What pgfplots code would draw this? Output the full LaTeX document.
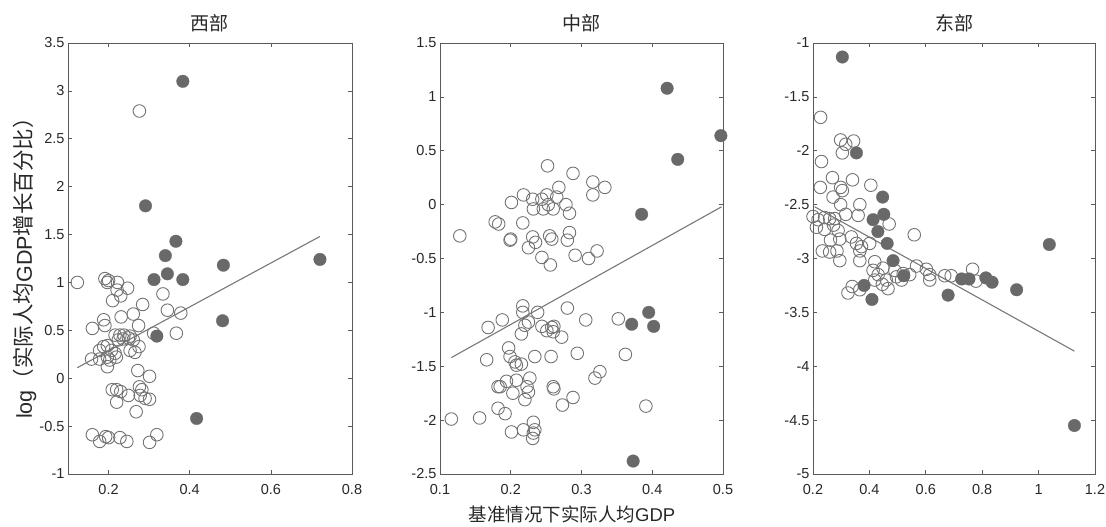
\documentclass[border=0pt]{standalone}
\usepackage{pgfplots}
\pgfplotsset{compat=1.18}
\usepackage{fontspec}
\setmainfont{Liberation Sans}
\newfontfamily\cjk{Noto Sans CJK SC}
\definecolor{axc}{RGB}{90,90,90}
\definecolor{txc}{RGB}{40,40,40}
\definecolor{opc}{RGB}{115,115,115}
\definecolor{fic}{RGB}{105,105,105}
\definecolor{lnc}{RGB}{120,120,120}
\pgfplotsset{
  myax/.style={
    scale only axis, height=431pt,
    anchor=south west,
    axis line style={axc, line width=0.8pt},
    tick style={axc, line width=0.7pt},
    major tick length=4pt,
    tick align=inside, tick pos=both,
    /pgf/number format/assume math mode=true,
    ticklabel style={font=\fontsize{14.5}{17}\selectfont, text=txc},
    xticklabel style={yshift=-7pt},
    title style={at={(0.5,1)}, anchor=center, yshift=14pt, font=\cjk\fontsize{19}{22}\selectfont, text=txc},
    clip=false,
  },
  opn/.style={only marks, mark=o, mark size=6.3pt, mark options={draw=opc, line width=0.9pt}},
  fil/.style={only marks, mark=*, mark size=6.3pt, mark options={draw=fic, fill=fic, line width=0.3pt}},
  reg/.style={lnc, line width=1.1pt, no marks},
}
\begin{document}
\begin{tikzpicture}
\path[use as bounding box] (0pt,0pt) rectangle (1106pt,527pt);
% ---------------- West
\begin{axis}[myax, at={(68pt,53pt)}, width=284pt,
  xmin=0.1, xmax=0.8, ymin=-1, ymax=3.5,
  xtick={0.2,0.4,0.6,0.8}, ytick={-1,-0.5,0,0.5,1,1.5,2,2.5,3,3.5},
  title={西部}]
\addplot[opn] table {
0.276 2.79
0.123 1.00
0.191 1.04
0.197 1.00
0.200 1.02
0.222 1.00
0.221 0.92
0.247 0.94
0.230 0.86
0.210 0.81
0.334 0.88
0.261 0.67
0.284 0.77
0.231 0.64
0.345 0.71
0.378 0.68
0.160 0.52
0.188 0.61
0.191 0.55
0.274 0.55
0.367 0.47
0.311 0.47
0.216 0.45
0.228 0.45
0.238 0.45
0.253 0.44
0.224 0.40
0.236 0.41
0.249 0.42
0.261 0.40
0.275 0.33
0.253 0.29
0.188 0.33
0.178 0.29
0.197 0.34
0.207 0.29
0.216 0.26
0.197 0.22
0.203 0.19
0.178 0.20
0.158 0.20
0.197 0.12
0.219 0.22
0.265 0.27
0.272 0.08
0.301 0.02
0.209 -0.12
0.220 -0.12
0.230 -0.14
0.249 -0.18
0.276 -0.09
0.282 -0.12
0.278 -0.18
0.290 -0.21
0.301 -0.22
0.220 -0.25
0.268 -0.35
0.160 -0.59
0.178 -0.66
0.193 -0.61
0.200 -0.62
0.228 -0.62
0.245 -0.66
0.301 -0.67
0.319 -0.59
};
\addplot[fil] table {
0.383 3.10
0.291 1.80
0.366 1.43
0.340 1.28
0.345 1.09
0.312 1.03
0.383 1.03
0.483 1.18
0.721 1.24
0.481 0.60
0.319 0.44
0.417 -0.42
};
\addplot[reg] coordinates {(0.123,0.11) (0.721,1.48)};
\end{axis}
% ---------------- Central
\begin{axis}[myax, at={(440pt,53pt)}, width=283pt,
  xmin=0.1, xmax=0.5, ymin=-2.5, ymax=1.5,
  xtick={0.1,0.2,0.3,0.4,0.5}, ytick={-2.5,-2,-1.5,-1,-0.5,0,0.5,1,1.5},
  title={中部}]
\addplot[opn] table {
0.128 -0.29
0.178 -0.16
0.183 -0.18
0.201 0.02
0.199 -0.33
0.200 -0.32
0.218 0.09
0.217 -0.17
0.231 0.05
0.232 -0.04
0.231 -0.30
0.225 -0.40
0.235 -0.35
0.244 0.05
0.246 -0.04
0.251 0.09
0.252 0.36
0.253 0.00
0.255 -0.29
0.258 -0.32
0.244 -0.49
0.256 -0.56
0.260 -0.04
0.265 0.07
0.268 0.16
0.278 0.00
0.283 -0.08
0.283 -0.26
0.280 -0.33
0.288 0.29
0.291 -0.47
0.316 0.21
0.316 0.09
0.333 0.16
0.310 -0.50
0.322 -0.43
0.116 -1.99
0.156 -1.98
0.168 -1.14
0.188 -1.07
0.166 -1.44
0.217 -0.94
0.217 -1.00
0.225 -1.09
0.220 -1.12
0.238 -1.00
0.215 -1.20
0.197 -1.33
0.199 -1.41
0.206 -1.46
0.208 -1.49
0.215 -1.48
0.234 -1.41
0.257 -1.41
0.244 -1.13
0.251 -1.17
0.258 -1.14
0.260 -1.18
0.272 -1.23
0.261 -1.13
0.280 -0.96
0.306 -1.07
0.294 -1.38
0.352 -1.06
0.362 -1.39
0.319 -1.61
0.326 -1.55
0.391 -1.87
0.227 -1.61
0.208 -1.63
0.194 -1.64
0.185 -1.69
0.182 -1.69
0.223 -1.69
0.225 -1.74
0.203 -1.75
0.220 -1.81
0.260 -1.69
0.261 -1.71
0.288 -1.79
0.273 -1.86
0.182 -1.89
0.192 -1.94
0.201 -2.11
0.218 -2.09
0.232 -2.02
0.234 -2.09
0.232 -2.12
0.231 -2.17
};
\addplot[fil] table {
0.421 1.08
0.497 0.64
0.436 0.42
0.385 -0.09
0.395 -1.00
0.371 -1.11
0.402 -1.13
0.373 -2.38
};
\addplot[reg] coordinates {(0.116,-1.42) (0.498,-0.02)};
\end{axis}
% ---------------- East
\begin{axis}[myax, at={(813pt,53pt)}, width=282pt,
  xmin=0.2, xmax=1.2, ymin=-5, ymax=-1,
  xtick={0.2,0.4,0.6,0.8,1,1.2}, ytick={-5,-4.5,-4,-3.5,-3,-2.5,-2,-1.5,-1},
  title={东部}]
\addplot[opn] table {
0.227 -1.69
0.298 -1.90
0.344 -1.91
0.316 -1.94
0.304 -2.02
0.230 -2.10
0.269 -2.25
0.340 -2.27
0.405 -2.32
0.226 -2.34
0.298 -2.34
0.304 -2.37
0.271 -2.43
0.298 -2.50
0.366 -2.50
0.200 -2.61
0.218 -2.64
0.241 -2.62
0.259 -2.63
0.277 -2.63
0.316 -2.59
0.360 -2.60
0.212 -2.71
0.241 -2.73
0.289 -2.74
0.273 -2.69
0.295 -2.82
0.336 -2.80
0.354 -2.86
0.372 -2.89
0.470 -2.68
0.559 -2.78
0.262 -2.83
0.233 -2.93
0.259 -2.94
0.285 -2.93
0.295 -3.02
0.366 -2.93
0.366 -3.02
0.401 -2.86
0.324 -3.32
0.339 -3.26
0.366 -3.29
0.419 -3.03
0.413 -3.11
0.431 -3.15
0.419 -3.20
0.448 -3.09
0.446 -3.24
0.466 -3.28
0.460 -3.20
0.490 -3.11
0.496 -3.17
0.514 -3.20
0.520 -3.14
0.543 -3.15
0.567 -3.07
0.602 -3.10
0.614 -3.20
0.614 -3.15
0.667 -3.16
0.690 -3.16
0.766 -3.10
0.778 -3.21
};
\addplot[fil] table {
0.304 -1.13
0.354 -2.02
0.447 -2.43
0.413 -2.64
0.451 -2.59
0.430 -2.75
0.463 -2.86
1.038 -2.87
0.484 -3.02
0.522 -3.16
0.381 -3.25
0.409 -3.38
0.679 -3.34
0.727 -3.19
0.753 -3.19
0.813 -3.18
0.835 -3.22
0.922 -3.29
1.127 -4.55
};
\addplot[reg] coordinates {(0.206,-2.52) (1.127,-3.86)};
\end{axis}
\node[rotate=90, text=txc, anchor=center] at (25pt,264pt)
  {\fontsize{21.5}{25}\selectfont log{\cjk （实际人均}GDP{\cjk 增长百分比）}};
\node[text=txc, anchor=center] at (572pt,13pt)
  {\fontsize{18.5}{22}\selectfont {\cjk 基准情况下实际人均}GDP};
\end{tikzpicture}
\end{document}
